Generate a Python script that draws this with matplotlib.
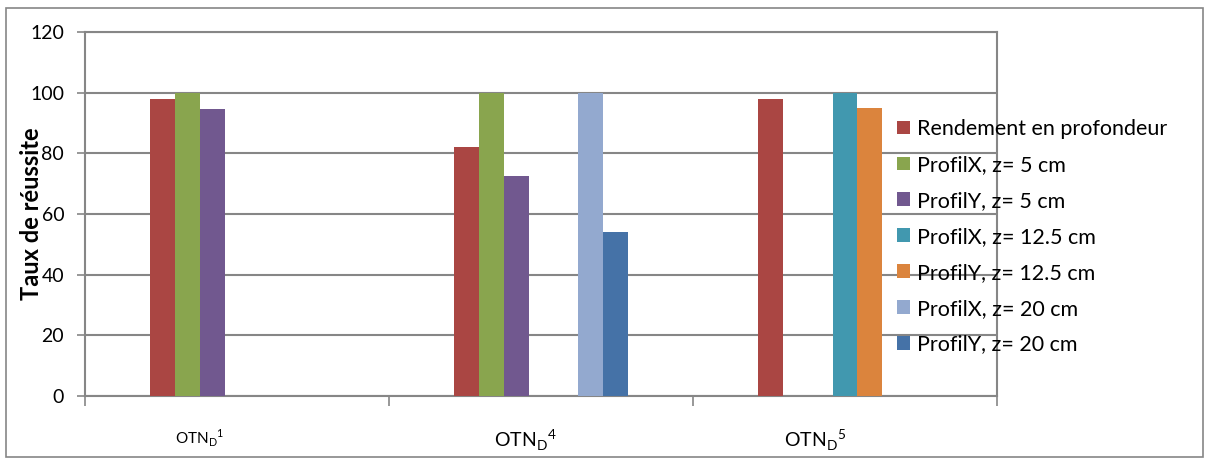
import numpy as np
import matplotlib.pyplot as plt
import matplotlib.transforms as mtransforms
from matplotlib.patches import Rectangle

plt.rcParams['font.family'] = ['Lato', 'DejaVu Sans']

# data
categories = [r'OTN$_\mathregular{D}$$^\mathregular{1}$',
              r'OTN$_\mathregular{D}$$^\mathregular{4}$',
              r'OTN$_\mathregular{D}$$^\mathregular{5}$']
series_names = ['Rendement en profondeur', 'ProfilX, z= 5 cm', 'ProfilY, z= 5 cm',
                'ProfilX, z= 12.5 cm', 'ProfilY, z= 12.5 cm',
                'ProfilX, z= 20 cm', 'ProfilY, z= 20 cm']
rendement = [98, 82, 98]
profx_5 = [100, 100, np.nan]
profy_5 = [94.5, 72.5, np.nan]
profx_125 = [np.nan, np.nan, 100]
profy_125 = [np.nan, np.nan, 95]
profx_20 = [np.nan, 100, np.nan]
profy_20 = [np.nan, 54, np.nan]
series = [rendement, profx_5, profy_5, profx_125, profy_125, profx_20, profy_20]
colors = ['#AA4643', '#89A54E', '#71588F', '#4198AF', '#DB843D', '#93A9CF', '#4572A7']

fig = plt.figure(figsize=(12.08, 4.59), dpi=100)
ax = fig.add_axes([85/1208, 63/459, 912/1208, 364/459])

barWidth = 0.082
x = np.arange(len(categories))
for i, (vals, c, name) in enumerate(zip(series, colors, series_names)):
    ax.bar(x + (i - 3) * barWidth, vals, width=barWidth, color=c, label=name, zorder=3)

ax.set_xlim(-0.5, 2.5)
ax.set_ylim(0, 120)
ax.set_yticks(np.arange(0, 121, 20))
ax.yaxis.grid(True, color='#868686', linewidth=1.5, zorder=0)
ax.tick_params(axis='y', labelsize=14, length=6, width=1.2, color='#868686', pad=9)

# category boundaries as major ticks, labels on minor ticks
ax.set_xticks([-0.5, 0.5, 1.5, 2.5])
ax.set_xticklabels([])
ax.tick_params(axis='x', which='major', length=7, width=1.2, color='#868686', direction='out')
ax.set_xticks(x, minor=True)
ax.set_xticklabels(categories, minor=True)
ax.tick_params(axis='x', which='minor', length=0, pad=23, labelsize=14)
lbls = ax.get_xticklabels(minor=True)
lbls[0].set_fontsize(11)
offsets = [-0.37, -0.16, -0.30]
for lab, dx in zip(lbls, offsets):
    lab.set_transform(lab.get_transform() + mtransforms.ScaledTranslation(dx, 0, fig.dpi_scale_trans))

for s in ax.spines.values():
    s.set_color('#868686')
    s.set_linewidth(1.5)

ax.set_ylabel('Taux de réussite', fontsize=17, fontweight='bold')
ax.yaxis.set_label_coords(-42/912, 0.5)

ax.legend(loc='upper left', bbox_to_anchor=(897/1208, 1 - 119/459), bbox_transform=fig.transFigure,
          frameon=False, fontsize=15.5, handlelength=0.6, handleheight=0.6, handletextpad=0.35,
          labelspacing=0.74, borderpad=0, borderaxespad=0)

fig.patches.append(Rectangle((6/1208, 2/459), 1197/1208, 449/459, transform=fig.transFigure,
                             fill=False, edgecolor='#868686', linewidth=1.2))

fig.savefig('out.png', dpi=100)
